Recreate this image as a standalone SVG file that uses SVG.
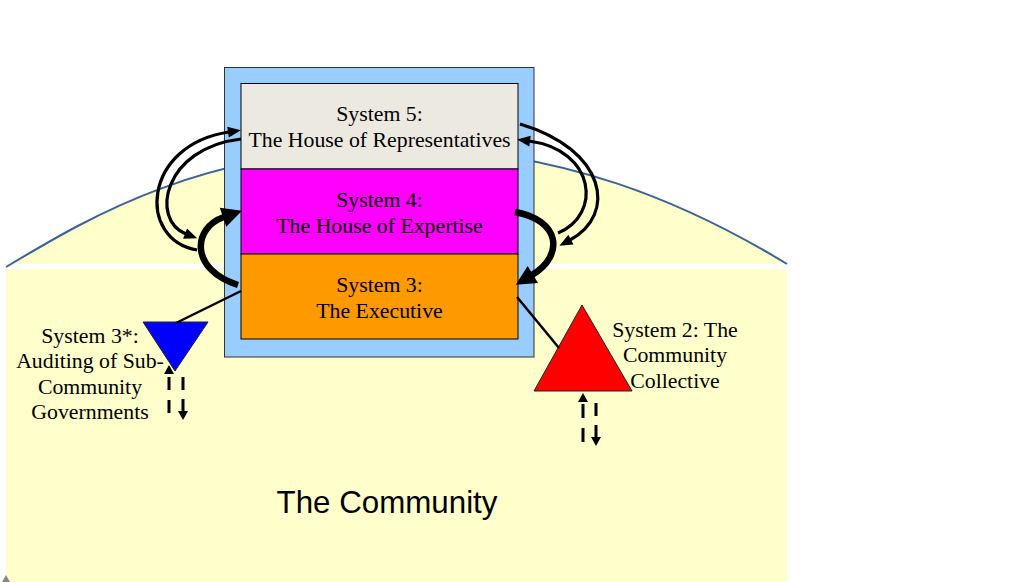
<svg xmlns="http://www.w3.org/2000/svg" width="1022" height="582" viewBox="0 0 1022 582">
<style>
.t{font-family:"Liberation Serif","Times New Roman",serif;font-size:21.8px;fill:#000;text-anchor:middle}
.big{font-family:"Liberation Sans",Arial,sans-serif;font-size:31.3px;fill:#000;text-anchor:middle}
.box{stroke:#000;stroke-width:1}
.thin{fill:none;stroke:#000;stroke-width:3.2}
.thick{fill:none;stroke:#000;stroke-width:6.5}
.dash{fill:none;stroke:#000;stroke-width:3}
.tie{stroke:#000;stroke-width:2.5}
</style>
<defs>
<marker id="ah" markerUnits="userSpaceOnUse" orient="auto" overflow="visible" markerWidth="1" markerHeight="1"><path d="M-1,-5.5 L12,0 L-1,5.5 z" fill="#000"/></marker>
<marker id="ahb" markerUnits="userSpaceOnUse" orient="auto" overflow="visible" markerWidth="1" markerHeight="1"><path d="M-1,-10 L19,0 L-1,10 z" fill="#000"/></marker>
<marker id="ahs" markerUnits="userSpaceOnUse" orient="auto" overflow="visible" markerWidth="1" markerHeight="1"><path d="M-1,-5 L8,0 L-1,5 z" fill="#000"/></marker>
</defs>
<rect width="1022" height="582" fill="#fff"/>
<g id="community">
<path d="M6,267 C 90,217 200,150 390,148 C 560,146 690,205 787,264 L6,264 Z" fill="#FFFFCC"/>
<path d="M6,267 C 90,217 200,150 390,148 C 560,146 690,205 787,264" fill="none" stroke="#3C6399" stroke-width="2"/>
<rect x="6" y="269" width="781" height="313" fill="#FFFFCC"/>
<text class="big" x="387" y="513">The Community</text>
<path d="M2,582 L6,575 L10,582 Z" fill="#888"/>
</g>
<g id="frame">
<rect x="224.5" y="67.5" width="309.5" height="289.5" fill="#99CCFF" stroke="#333" stroke-width="1"/>
</g>
<g id="system5">
<rect class="box" x="241" y="83.5" width="277" height="85.5" fill="#ECEAE0"/>
<text class="t" x="379.5" y="121">System 5:</text>
<text class="t" x="379.5" y="147">The House of Representatives</text>
</g>
<g id="system4">
<rect class="box" x="241" y="169" width="277" height="85" fill="#FF00FF"/>
<text class="t" x="379.5" y="207">System 4:</text>
<text class="t" x="379.5" y="233">The House of Expertise</text>
</g>
<g id="system3">
<rect class="box" x="241" y="254" width="277" height="85" fill="#FF9900"/>
<text class="t" x="379.5" y="292">System 3:</text>
<text class="t" x="379.5" y="318">The Executive</text>
</g>
<g id="system3star">
<path d="M143,322 L208,322 L175,371 Z" fill="#0000FF" stroke="#222" stroke-width="1"/>
<text class="t" x="90" y="342.5">System 3*:</text>
<text class="t" x="90" y="368">Auditing of Sub-</text>
<text class="t" x="90" y="393.5">Community</text>
<text class="t" x="90" y="419">Governments</text>
</g>
<g id="system2">
<path d="M582,305 L534,391 L632,391 Z" fill="#FF0000" stroke="#222" stroke-width="1"/>
<text class="t" x="675" y="336.5">System 2: The</text>
<text class="t" x="675" y="362">Community</text>
<text class="t" x="675" y="387.5">Collective</text>
</g>
<g id="connectors">
<path class="thin" d="M197,250 C 137,240 142,145 229,132" marker-end="url(#ah)"/>
<path class="thin" d="M241,139 C 163,148 150,220 186,234" marker-end="url(#ah)"/>
<path class="thick" d="M238,285 C 190,270 192,228 224,217" marker-end="url(#ahb)"/>
<path class="thin" d="M520,124 C 607,150 617,215 570,240" marker-end="url(#ah)"/>
<path class="thin" d="M558,233 C 602,215 596,150 529,141" marker-end="url(#ah)"/>
<path class="thick" d="M515,212 C 560,220 565,255 532,275" marker-end="url(#ahb)"/>
<line class="tie" x1="176" y1="323" x2="241" y2="291"/>
<line class="tie" x1="517" y1="297" x2="559" y2="348"/>
<path class="dash" d="M169,413 L169,373" stroke-dasharray="13 10" marker-end="url(#ahs)"/>
<path class="dash" d="M183,377 L183,412" stroke-dasharray="13 9" marker-end="url(#ahs)"/>
<path class="dash" d="M583,442 L583,401" stroke-dasharray="14 10" marker-end="url(#ahs)"/>
<path class="dash" d="M596,403 L596,438" stroke-dasharray="13 9" marker-end="url(#ahs)"/>
</g>
</svg>
